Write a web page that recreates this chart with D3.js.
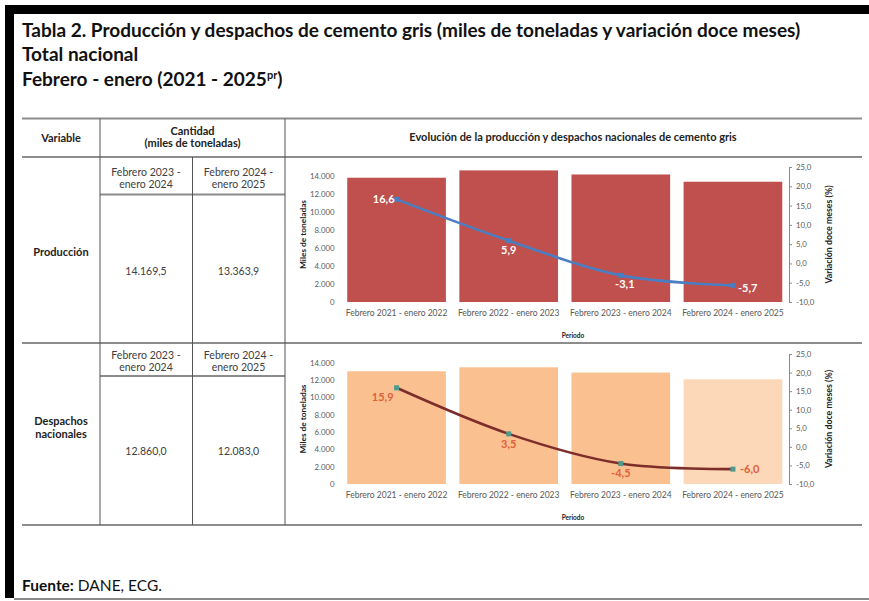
<!DOCTYPE html>
<html>
<head>
<meta charset="utf-8">
<script src="https://cdn.jsdelivr.net/npm/d3@7"></script>
<style>
  body { margin: 0; background: #fff; }
  svg text { font-family: Lato, "Open Sans", sans-serif; }
</style>
</head>
<body>
<div id="chart"></div>
<script>
// Data (ECG)
let periodos = ["Febrero 2021 - enero 2022", "Febrero 2022 - enero 2023",
                "Febrero 2023 - enero 2024", "Febrero 2024 - enero 2025"];
let produccion = [13808, 14622, 14169.5, 13363.9];
let produccionVar = [16.6, 5.9, -3.1, -5.7];
let despachos = [13010, 13466, 12860, 12083];
let despachosVar = [15.9, 3.5, -4.5, -6.0];
let leftTicks = [0, 2000, 4000, 6000, 8000, 10000, 12000, 14000];
let rightTicks = [-10, -5, 0, 5, 10, 15, 20, 25];

// Table cells
let variables = [["Producción"], ["Despachos", "nacionales"]];
let subPeriodos = [["Febrero 2023 -", "enero 2024"], ["Febrero 2024 -", "enero 2025"]];
let cantidades = [[14169.5, 13363.9], [12860.0, 12083.0]];

let svgWidth = 869;
let svgHeight = 601;

// Spanish number format: 14.000 / 25,0
let es = d3.formatLocale({ decimal: ",", thousands: ".", grouping: [3], currency: ["$", ""], minus: "-" });
let fmtInt = es.format(",.0f");
let fmt1 = es.format(",.1f");

let svg = d3.select("#chart")
    .append("svg")
    .attr("width", svgWidth)
    .attr("height", svgHeight);

svg.append("rect").attr("width", svgWidth).attr("height", svgHeight).attr("fill", "#fff");

// Black page frame (top + left) and bottom rule
svg.append("rect").attr("x", 5).attr("y", 5).attr("width", svgWidth - 5).attr("height", 9).attr("fill", "#000");
svg.append("rect").attr("x", 5).attr("y", 5).attr("width", 9).attr("height", 593).attr("fill", "#000");
svg.append("line").attr("x1", 14).attr("x2", svgWidth).attr("y1", 599).attr("y2", 599)
    .attr("stroke", "#8a8a8a").attr("stroke-width", 2);

// Titles
let titles = svg.append("g").attr("font-weight", "bold").attr("font-size", "19px").attr("fill", "#111");
titles.append("text").attr("x", 22).attr("y", 37)
    .text("Tabla 2. Producción y despachos de cemento gris (miles de toneladas y variación doce meses)");
titles.append("text").attr("x", 22).attr("y", 61).text("Total nacional");
let t3 = titles.append("text").attr("x", 22).attr("y", 86);
t3.append("tspan").text("Febrero - enero (2021 - 2025");
t3.append("tspan").attr("font-size", "11px").attr("dy", -7).text("pr");
t3.append("tspan").attr("dy", 7).text(")");

// Table grid
let grid = svg.append("g");
let hLines = [[22, 862, 118.5], [22, 862, 157], [100, 285, 194.5], [22, 862, 343], [100, 285, 376], [22, 862, 525]];
hLines.forEach(function (l) {
    grid.append("line").attr("x1", l[0]).attr("x2", l[1]).attr("y1", l[2]).attr("y2", l[2])
        .attr("stroke", "#8c8c8c").attr("stroke-width", 2);
});
let vLines = [[100, 118.5, 525], [192.5, 157, 525], [285, 118.5, 525]];
vLines.forEach(function (l) {
    grid.append("line").attr("x1", l[0]).attr("x2", l[0]).attr("y1", l[1]).attr("y2", l[2])
        .attr("stroke", "#555").attr("stroke-width", 1);
});

// Table header
let head = svg.append("g").attr("font-weight", "bold").attr("font-size", "11px").attr("fill", "#222")
    .attr("text-anchor", "middle");
head.append("text").attr("x", 61).attr("y", 138).attr("dy", "0.35em").text("Variable");
head.append("text").attr("x", 192.5).attr("y", 131).attr("dy", "0.35em").text("Cantidad");
head.append("text").attr("x", 192.5).attr("y", 143.5).attr("dy", "0.35em").text("(miles de toneladas)");
head.append("text").attr("x", 573).attr("y", 137).attr("dy", "0.35em").attr("font-size", "11px")
    .text("Evolución de la producción y despachos nacionales de cemento gris");

// Table rows
let rowLayout = [
    { subY: 172, nameY: 252, valY: 271 },
    { subY: 355, nameY: 428, valY: 451 }
];
let colCenters = [146, 238.5];

rowLayout.forEach(function (r, i) {
    let g = svg.append("g").attr("text-anchor", "middle").attr("font-size", "10.5px");
    variables[i].forEach(function (s, k) {
        g.append("text").attr("x", 61).attr("y", r.nameY + k * 13 - (variables[i].length - 1) * 6.5)
            .attr("dy", "0.35em").attr("font-weight", "bold").attr("font-size", "11px")
            .attr("fill", "#222").text(s);
    });
    colCenters.forEach(function (cx, j) {
        subPeriodos[j].forEach(function (s, k) {
            g.append("text").attr("x", cx).attr("y", r.subY + k * 12.5).attr("dy", "0.35em")
                .attr("fill", "#404040").text(s);
        });
        g.append("text").attr("x", cx).attr("y", r.valY).attr("dy", "0.35em")
            .attr("fill", "#404040").text(fmt1(cantidades[i][j]));
    });
});

// Chart drawing
function drawChart(cfg) {
    let x = d3.scaleBand()
        .domain(periodos)
        .range([340.5, 789])
        .paddingInner(0.12)
        .paddingOuter(0.06);

    let yLeft = d3.scaleLinear().domain([0, 15000]).range([cfg.bottom, cfg.top]);
    let yRight = d3.scaleLinear().domain([-10, 25]).range([cfg.bottom, cfg.top]);

    let g = svg.append("g");

    // Bars
    g.selectAll("rect.bar")
        .data(cfg.values)
        .enter()
        .append("rect")
        .attr("class", "bar")
        .attr("x", (d, i) => x(periodos[i]))
        .attr("width", x.bandwidth())
        .attr("y", d => yLeft(d))
        .attr("height", d => yLeft(0) - yLeft(d))
        .attr("fill", (d, i) => cfg.barColors[i]);

    // Left axis (no line)
    let leftAxis = g.append("g")
        .attr("transform", `translate(340.5, 0)`)
        .call(d3.axisLeft(yLeft).tickValues(leftTicks).tickFormat(fmtInt).tickSize(0).tickPadding(6));
    leftAxis.select(".domain").remove();

    // Right axis
    let rightAxis = g.append("g")
        .attr("transform", `translate(789, 0)`)
        .call(d3.axisRight(yRight).tickValues(rightTicks).tickFormat(fmt1).tickSize(3).tickSizeOuter(3).tickPadding(4));
    rightAxis.select(".domain").attr("stroke", "#8a8a8a");
    rightAxis.selectAll(".tick line").attr("stroke", "#8a8a8a");

    // Bottom axis (labels only)
    let bottomAxis = g.append("g")
        .attr("transform", `translate(0, ${cfg.bottom})`)
        .call(d3.axisBottom(x).tickSize(0).tickPadding(8));
    bottomAxis.select(".domain").remove();

    g.selectAll(".tick text")
        .attr("font-family", "Lato, 'Open Sans', sans-serif")
        .attr("font-size", "7.8px")
        .attr("fill", "#595959");
    bottomAxis.selectAll(".tick text").attr("font-size", "8.5px");

    // Axis titles
    let mid = (cfg.top + cfg.bottom) / 2;
    g.append("text")
        .attr("transform", `translate(303, ${mid}) rotate(-90)`)
        .attr("text-anchor", "middle").attr("dy", "0.35em")
        .attr("font-size", "8.3px").attr("font-weight", "bold").attr("fill", "#222")
        .text("Miles de toneladas");
    g.append("text")
        .attr("transform", `translate(829, ${mid}) rotate(-90)`)
        .attr("text-anchor", "middle").attr("dy", "0.35em")
        .attr("font-size", "8.8px").attr("font-weight", "bold").attr("fill", "#222")
        .text("Variación doce meses (%)");
    g.append("text")
        .attr("x", 573).attr("y", cfg.bottom + 34).attr("dy", "0.35em")
        .attr("text-anchor", "middle")
        .attr("font-size", "6.5px").attr("font-weight", "bold").attr("fill", "#222")
        .text("Periodo");

    // Smoothed variation line
    let cx = (d, i) => x(periodos[i]) + x.bandwidth() / 2;
    let line = d3.line()
        .x(cx)
        .y(d => yRight(d))
        .curve(d3.curveCardinal.tension(0));

    g.append("path")
        .datum(cfg.variation)
        .attr("d", line)
        .attr("fill", "none")
        .attr("stroke", cfg.lineColor)
        .attr("stroke-width", 2.6);

    g.selectAll("rect.marker")
        .data(cfg.variation)
        .enter()
        .append("rect")
        .attr("class", "marker")
        .attr("x", (d, i) => cx(d, i) - 2.5)
        .attr("y", d => yRight(d) - 2.5)
        .attr("width", 5).attr("height", 5)
        .attr("fill", cfg.markerColor);

    // Data labels
    g.selectAll("text.lbl")
        .data(cfg.variation)
        .enter()
        .append("text")
        .attr("class", "lbl")
        .attr("x", (d, i) => cx(d, i) + cfg.labelPos[i][0])
        .attr("y", (d, i) => yRight(d) + cfg.labelPos[i][1])
        .attr("dy", "0.35em")
        .attr("text-anchor", (d, i) => cfg.labelPos[i][2])
        .attr("font-size", "11px")
        .attr("font-weight", "bold")
        .attr("fill", cfg.labelColor)
        .text(d => fmt1(d));
}

drawChart({
    top: 167, bottom: 302,
    values: produccion, variation: produccionVar,
    barColors: ["#C0504D", "#C0504D", "#C0504D", "#C0504D"],
    lineColor: "#4A7EC2", markerColor: "#4A7EC2", labelColor: "#fff",
    labelPos: [[-2, 0, "end"], [0, 9, "middle"], [4, 9, "middle"], [5, 3, "start"]]
});

drawChart({
    top: 354, bottom: 484,
    values: despachos, variation: despachosVar,
    barColors: ["#FAC090", "#FAC090", "#FAC090", "#FCD8B8"],
    lineColor: "#7D2E2B", markerColor: "#4E9A8C", labelColor: "#E0603A",
    labelPos: [[-3, 9, "end"], [0, 10, "middle"], [0, 10, "middle"], [7, 0, "start"]]
});

// Source
let src = svg.append("text").attr("x", 22).attr("y", 591).attr("font-size", "15.5px").attr("fill", "#111");
src.append("tspan").attr("font-weight", "bold").text("Fuente:");
src.append("tspan").text(" DANE, ECG.");
</script>
</body>
</html>
